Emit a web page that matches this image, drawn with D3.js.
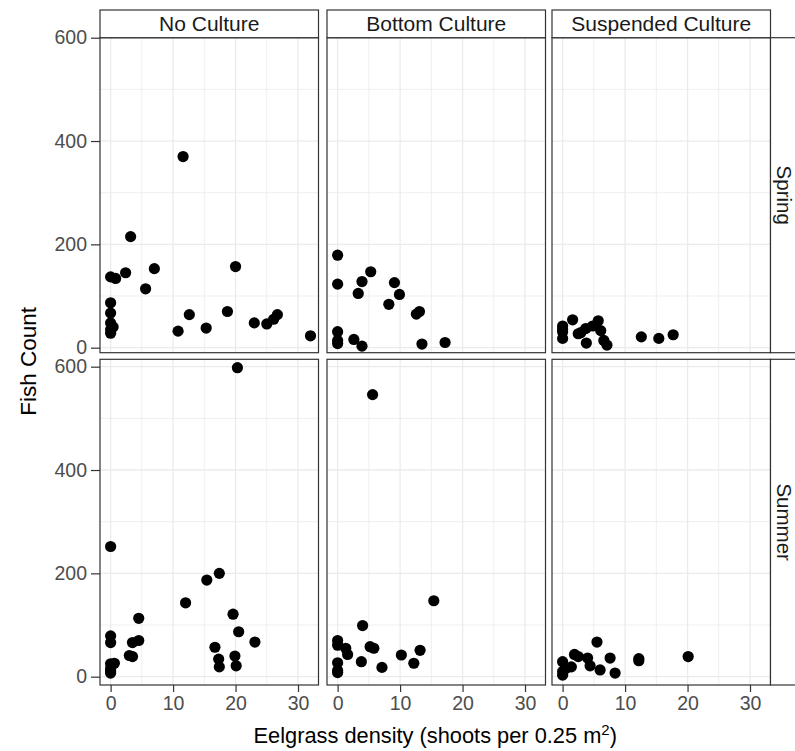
<!DOCTYPE html>
<html>
<head>
<meta charset="utf-8">
<script src="https://cdn.jsdelivr.net/npm/d3@7"></script>
<style>
  html, body { margin: 0; padding: 0; background: #fff; }
  svg { display: block; font-family: "Liberation Sans", Arial, Helvetica, sans-serif; }
</style>
</head>
<body>
<svg id="chart" width="795" height="751"></svg>
<script>
// facets
const cultures = ['No Culture', 'Bottom Culture', 'Suspended Culture'];
const seasons  = ['Spring', 'Summer'];

// ticks
const xTicks      = [0, 10, 20, 30];
const xMinorTicks = [5, 15, 25];
const yTicks      = [0, 200, 400, 600];
const yMinorTicks = [100, 300, 500];

// [eelgrass density, fish count]
const springNoCulture = [
    [11.6, 370], [3.2, 215], [0, 137], [0.8, 134], [2.4, 145], [7.0, 153], [5.6, 114], [20, 157],
    [0, 87], [0, 67], [0, 48], [0.4, 40], [0, 35], [0, 28], [10.8, 32], [12.6, 64], [15.3, 38],
    [18.7, 70], [23, 48], [25, 46], [26.1, 55], [26.7, 64], [32, 23]
];
const springBottom = [
    [0, 179], [0, 123], [5.3, 147], [3.9, 128], [3.3, 105], [9.1, 126], [9.9, 103], [8.2, 84],
    [13.1, 70], [12.6, 65], [0, 31], [0, 14], [0, 8], [2.6, 16], [3.9, 3], [13.5, 7], [17.2, 10]
];
const springSuspended = [
    [1.6, 54], [0, 42], [0, 36], [0, 31], [0, 18], [2.9, 29], [2.5, 27], [3.7, 37], [4.8, 42],
    [5.7, 52], [6.1, 33], [3.8, 9], [6.6, 14], [7.1, 5], [12.6, 21], [15.4, 18], [17.7, 25]
];
const summerNoCulture = [
    [20.3, 598], [0, 252], [17.4, 200], [15.4, 187], [12, 143], [4.5, 113], [19.6, 121], [20.5, 87],
    [23.1, 67], [16.7, 57], [17.3, 34], [17.4, 19], [19.9, 40], [20.1, 21], [0, 79], [0, 66],
    [3.5, 66], [4.5, 70], [3.0, 41], [3.5, 39], [0, 25], [0.6, 26], [0, 16], [0, 11], [0, 7]
];
const summerBottom = [
    [5.6, 546], [15.4, 147], [4.0, 99], [0, 70], [0, 61], [1.3, 55], [1.6, 43], [5.2, 58],
    [5.8, 55], [3.8, 29], [7.1, 18], [10.2, 42], [12.2, 26], [13.2, 51], [0, 27], [0, 12], [0, 8]
];
const summerSuspended = [
    [5.5, 67], [1.9, 43], [2.5, 39], [4.0, 36], [4.4, 21], [7.6, 36], [6.0, 13], [8.4, 7],
    [12.2, 35], [12.2, 31], [20.1, 39], [0, 29], [1.4, 19], [0.5, 16], [0, 10], [0, 3]
];

const panelData = [
    [springNoCulture, springBottom, springSuspended],
    [summerNoCulture, summerBottom, summerSuspended]
];

class FacetScatter {
    constructor (svg) {
        this._svg = svg;
        this.cols = [100, 327, 552];
        this.colW = 218.5;
        this.rows = [
            { top: 37.7,  bottom: 352.7, domain: [-9.7, 600] },
            { top: 359.3, bottom: 685,   domain: [-16.1, 614.3] }
        ];
        this.border = '#333333';
        this.grid   = '#ebebeb';
    }
    /* **************************************************************** *
     *   Scale
     * **************************************************************** */
    xScale (c) {
        let left = this.cols[c];
        return d3.scaleLinear().domain([-1.7, 33.28]).range([left, left + this.colW]);
    }
    yScale (r) {
        let row = this.rows[r];
        return d3.scaleLinear().domain(row.domain).range([row.bottom, row.top]);
    }
    /* **************************************************************** *
     *   Draw
     * **************************************************************** */
    drawPanel (r, c) {
        let x = this.xScale(c);
        let y = this.yScale(r);
        let row = this.rows[r];
        let g = this._svg.append('g').attr('class', 'panel');

        g.selectAll('line.vminor').data(xMinorTicks).enter().append('line')
            .attr('x1', (d) => x(d)).attr('x2', (d) => x(d))
            .attr('y1', row.top).attr('y2', row.bottom)
            .attr('stroke', this.grid).attr('stroke-width', 0.8);
        g.selectAll('line.hminor').data(yMinorTicks).enter().append('line')
            .attr('y1', (d) => y(d)).attr('y2', (d) => y(d))
            .attr('x1', x.range()[0]).attr('x2', x.range()[1])
            .attr('stroke', this.grid).attr('stroke-width', 0.8);
        g.selectAll('line.vmajor').data(xTicks).enter().append('line')
            .attr('x1', (d) => x(d)).attr('x2', (d) => x(d))
            .attr('y1', row.top).attr('y2', row.bottom)
            .attr('stroke', this.grid).attr('stroke-width', 1.3);
        g.selectAll('line.hmajor').data(yTicks).enter().append('line')
            .attr('y1', (d) => y(d)).attr('y2', (d) => y(d))
            .attr('x1', x.range()[0]).attr('x2', x.range()[1])
            .attr('stroke', this.grid).attr('stroke-width', 1.3);

        g.selectAll('circle').data(panelData[r][c]).enter().append('circle')
            .attr('cx', (d) => x(d[0]))
            .attr('cy', (d) => y(d[1]))
            .attr('r', 5.6)
            .attr('fill', '#000');

        g.append('rect')
            .attr('x', x.range()[0]).attr('y', row.top)
            .attr('width', this.colW).attr('height', row.bottom - row.top)
            .attr('fill', 'none').attr('stroke', this.border).attr('stroke-width', 1.2);
    }
    drawStrips () {
        let svg = this._svg;
        let self = this;

        cultures.forEach((name, c) => {
            let left = self.cols[c];
            svg.append('rect')
                .attr('x', left).attr('y', 10)
                .attr('width', self.colW).attr('height', 27.7)
                .attr('fill', '#fff').attr('stroke', self.border).attr('stroke-width', 1.2);
            svg.append('text')
                .attr('x', left + self.colW / 2).attr('y', 31)
                .attr('text-anchor', 'middle')
                .attr('font-size', 21).attr('fill', '#1a1a1a')
                .text(name);
        });

        seasons.forEach((name, r) => {
            let row = self.rows[r];
            let left = self.cols[2] + self.colW;
            svg.append('rect')
                .attr('x', left).attr('y', row.top)
                .attr('width', 40).attr('height', row.bottom - row.top)
                .attr('fill', '#fff').attr('stroke', self.border).attr('stroke-width', 1.2);
            let cy = (row.top + row.bottom) / 2;
            svg.append('text')
                .attr('transform', 'translate(' + (left + 6.5) + ',' + cy + ') rotate(90)')
                .attr('text-anchor', 'middle')
                .attr('font-size', 20.5).attr('fill', '#1a1a1a')
                .text(name);
        });
    }
    drawAxes () {
        let svg = this._svg;

        this.rows.forEach((row, r) => {
            let y = this.yScale(r);
            let ax = d3.axisLeft(y).tickValues(yTicks).tickSize(9).tickPadding(4);
            let g = svg.append('g')
                .attr('transform', 'translate(' + this.cols[0] + ',0)')
                .call(ax);
            g.select('.domain').remove();
            g.selectAll('line').attr('stroke', this.border).attr('stroke-width', 1.2);
            g.selectAll('text').attr('font-size', 19.5).attr('fill', '#4d4d4d')
                .attr('font-family', null);
        });

        cultures.forEach((name, c) => {
            let x = this.xScale(c);
            let ax = d3.axisBottom(x).tickValues(xTicks).tickSize(7).tickPadding(4);
            let g = svg.append('g')
                .attr('transform', 'translate(0,' + this.rows[1].bottom + ')')
                .call(ax);
            g.select('.domain').remove();
            g.selectAll('line').attr('stroke', this.border).attr('stroke-width', 1.2);
            g.selectAll('text').attr('font-size', 19.5).attr('fill', '#4d4d4d')
                .attr('font-family', null);
        });
    }
    drawTitles () {
        let svg = this._svg;
        let cx = (this.cols[0] + this.cols[2] + this.colW) / 2;
        let cy = (this.rows[0].top + this.rows[1].bottom) / 2;

        let t = svg.append('text')
            .attr('x', cx).attr('y', 743)
            .attr('text-anchor', 'middle')
            .attr('font-size', 21.8).attr('fill', '#000');
        t.append('tspan').text('Eelgrass density (shoots per 0.25 m');
        t.append('tspan').attr('font-size', 15).attr('dy', -8).text('2');
        t.append('tspan').attr('dy', 8).text(')');

        svg.append('text')
            .attr('transform', 'translate(36,' + cy + ') rotate(-90)')
            .attr('text-anchor', 'middle')
            .attr('font-size', 22.5).attr('fill', '#000')
            .text('Fish Count');
    }
    draw () {
        for (let r = 0; r < seasons.length; r++)
            for (let c = 0; c < cultures.length; c++)
                this.drawPanel(r, c);
        this.drawStrips();
        this.drawAxes();
        this.drawTitles();
        return this;
    }
}

new FacetScatter(d3.select('#chart')).draw();
</script>
</body>
</html>
